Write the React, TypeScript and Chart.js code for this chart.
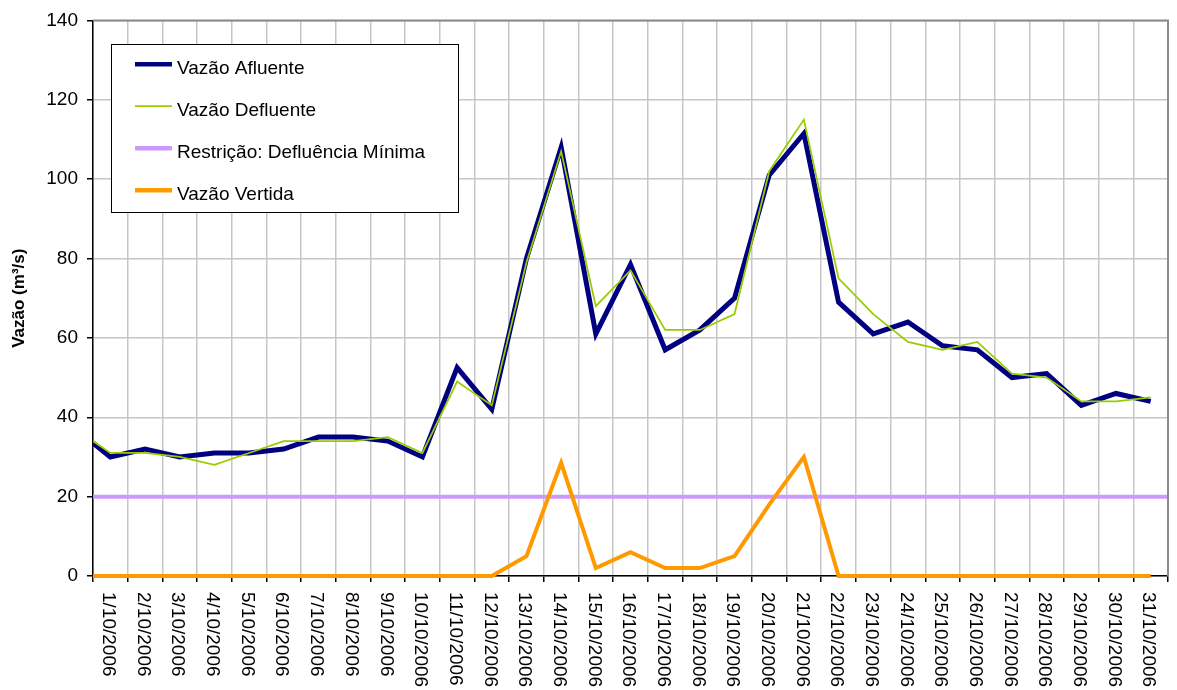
import React, { useEffect, useRef } from 'react';
import { Chart, registerables } from 'chart.js';

Chart.register(...registerables);

// First entry (30/9) is only visible as the segment clipped at the left axis;
// last entry (1/11) only carries the constant restriction line to the right edge.
const dates = [
  '30/9/2006',
  '1/10/2006', '2/10/2006', '3/10/2006', '4/10/2006', '5/10/2006', '6/10/2006', '7/10/2006',
  '8/10/2006', '9/10/2006', '10/10/2006', '11/10/2006', '12/10/2006', '13/10/2006', '14/10/2006',
  '15/10/2006', '16/10/2006', '17/10/2006', '18/10/2006', '19/10/2006', '20/10/2006', '21/10/2006',
  '22/10/2006', '23/10/2006', '24/10/2006', '25/10/2006', '26/10/2006', '27/10/2006', '28/10/2006',
  '29/10/2006', '30/10/2006', '31/10/2006',
  '1/11/2006',
];

const vazaoAfluente = [
  37, 30, 32, 30, 31, 31, 32, 35, 35, 34, 30, 52.5, 42, 80, 108, 61, 78.5, 57, 62, 70, 101, 111.5,
  69, 61, 64, 58, 57, 50, 51, 43, 46, 44, null,
];

const vazaoDefluente = [
  37, 31, 31, 30, 28, 31, 34, 34, 34, 35, 31, 49, 43, 79, 107, 68, 77, 62, 62, 66, 102, 115,
  75, 66, 59, 57, 59, 51, 50, 44, 44, 45, null,
];

const defluenciaMinima = [
  20, 20, 20, 20, 20, 20, 20, 20, 20, 20, 20, 20, 20, 20, 20, 20, 20, 20, 20, 20, 20, 20,
  20, 20, 20, 20, 20, 20, 20, 20, 20, 20, 20,
];

const vazaoVertida = [
  0, 0, 0, 0, 0, 0, 0, 0, 0, 0, 0, 0, 0, 5, 28.5, 2, 6, 2, 2, 5, 18, 30,
  0, 0, 0, 0, 0, 0, 0, 0, 0, 0, null,
];

const yTicks = [0, 20, 40, 60, 80, 100, 120, 140];

const FONT = '"Liberation Sans", Arial, Helvetica, sans-serif';

export default function App() {
  const ref = useRef<HTMLCanvasElement>(null);

  useEffect(() => {
    if (!ref.current) return;
    const xs = dates.map((_, i) => i - 1);
    const mk = (vals: (number | null)[]) => vals.map((v, i) => ({ x: xs[i], y: v }));
    const labels = dates.slice(1, dates.length - 1);

    const clip = { left: 0, top: 6, right: 0, bottom: 6 };

    const framePlugin = {
      id: 'frame',
      afterDatasetsDraw(chart: any) {
        const { ctx, chartArea } = chart;
        ctx.save();
        ctx.strokeStyle = '#8a8a8a';
        ctx.lineWidth = 2;
        ctx.beginPath();
        ctx.moveTo(chartArea.left, chartArea.top);
        ctx.lineTo(chartArea.right, chartArea.top);
        ctx.lineTo(chartArea.right, chartArea.bottom);
        ctx.stroke();
        ctx.restore();
      },
    };

    const xLabelPlugin = {
      id: 'xLabels',
      afterDraw(chart: any) {
        const { ctx, chartArea } = chart;
        const xScale = chart.scales.x;
        ctx.save();
        ctx.font = `19px ${FONT}`;
        ctx.fillStyle = '#000';
        ctx.textAlign = 'left';
        ctx.textBaseline = 'middle';
        labels.forEach((lab, i) => {
          const px = xScale.getPixelForValue(i);
          ctx.save();
          ctx.translate(px - 2, chartArea.bottom + 16);
          ctx.rotate(Math.PI / 2);
          ctx.fillText(lab, 0, 0);
          ctx.restore();
        });
        ctx.restore();
      },
    };

    const legendPlugin = {
      id: 'boxLegend',
      afterDraw(chart: any) {
        const { ctx } = chart;
        const bx = 111.5, by = 44.5, bw = 347, bh = 168;
        ctx.save();
        ctx.fillStyle = '#fff';
        ctx.fillRect(bx, by, bw, bh);
        ctx.strokeStyle = '#000';
        ctx.lineWidth = 1;
        ctx.strokeRect(bx, by, bw, bh);
        ctx.font = `19px ${FONT}`;
        ctx.textAlign = 'left';
        ctx.textBaseline = 'alphabetic';
        chart.data.datasets.forEach((ds: any, i: number) => {
          const base = 73.5 + i * 42;
          const ly = base - 9.3;
          ctx.strokeStyle = ds.borderColor;
          ctx.lineWidth = ds.legendWidth;
          ctx.beginPath();
          ctx.moveTo(135, ly);
          ctx.lineTo(172, ly);
          ctx.stroke();
          ctx.fillStyle = '#000';
          ctx.fillText(ds.label, 177, base);
        });
        ctx.restore();
      },
    };

    const chart = new Chart(ref.current, {
      type: 'line',
      data: {
        datasets: [
          {
            label: 'Vazão Afluente',
            data: mk(vazaoAfluente),
            borderColor: '#000080',
            borderWidth: 5,
            legendWidth: 4.5,
            pointRadius: 0,
            tension: 0,
            order: 3,
            clip,
          } as any,
          {
            label: 'Vazão Defluente',
            data: mk(vazaoDefluente),
            borderColor: '#99CC00',
            borderWidth: 1.75,
            legendWidth: 1.75,
            pointRadius: 0,
            tension: 0,
            order: 2,
            clip,
          } as any,
          {
            label: 'Restrição: Defluência Mínima',
            data: mk(defluenciaMinima),
            borderColor: '#CC99FF',
            borderWidth: 4,
            legendWidth: 4.5,
            pointRadius: 0,
            tension: 0,
            order: 4,
            clip,
          } as any,
          {
            label: 'Vazão Vertida',
            data: mk(vazaoVertida),
            borderColor: '#FF9900',
            borderWidth: 4,
            legendWidth: 4.5,
            pointRadius: 0,
            tension: 0,
            order: 1,
            clip,
          } as any,
        ],
      },
      options: {
        animation: false,
        responsive: false,
        devicePixelRatio: 1,
        spanGaps: false,
        layout: { padding: { left: 0, top: 18, right: 9, bottom: 0 } },
        plugins: {
          legend: { display: false },
          tooltip: { enabled: false },
        },
        scales: {
          x: {
            type: 'linear',
            min: -0.5,
            max: labels.length - 0.5,
            afterBuildTicks: (scale: any) => {
              scale.ticks = labels.map((_, i) => ({ value: i - 0.5 })).concat([{ value: labels.length - 0.5 }]);
            },
            afterFit: (scale: any) => {
              scale.height = 114;
            },
            ticks: { display: false },
            grid: {
              color: '#c6c6c6',
              lineWidth: 1.5,
              tickColor: '#000',
              tickLength: 6,
              drawTicks: true,
            },
            border: { display: true, color: '#000', width: 1.5 },
          },
          y: {
            min: 0,
            max: 140,
            afterBuildTicks: (scale: any) => {
              scale.ticks = yTicks.map((v) => ({ value: v }));
            },
            afterFit: (scale: any) => {
              scale.width = 93;
            },
            ticks: {
              color: '#000',
              font: { family: FONT, size: 19 },
              padding: 9,
            },
            grid: {
              color: '#c6c6c6',
              lineWidth: 1.5,
              tickColor: '#000',
              tickLength: 6,
            },
            border: { display: true, color: '#000', width: 1.5 },
            title: {
              display: true,
              text: 'Vazão (m³/s)',
              color: '#000',
              font: { family: FONT, size: 17, weight: 'bold' },
              padding: { top: 9, bottom: 0 },
            },
          },
        },
      } as any,
      plugins: [framePlugin, xLabelPlugin, legendPlugin],
    });

    return () => chart.destroy();
  }, []);

  return (
    <div style={{ position: 'absolute', left: 0, top: 0, width: 1177, height: 690, background: '#fff' }}>
      <canvas ref={ref} width={1177} height={690} style={{ display: 'block', width: 1177, height: 690 }} />
    </div>
  );
}
